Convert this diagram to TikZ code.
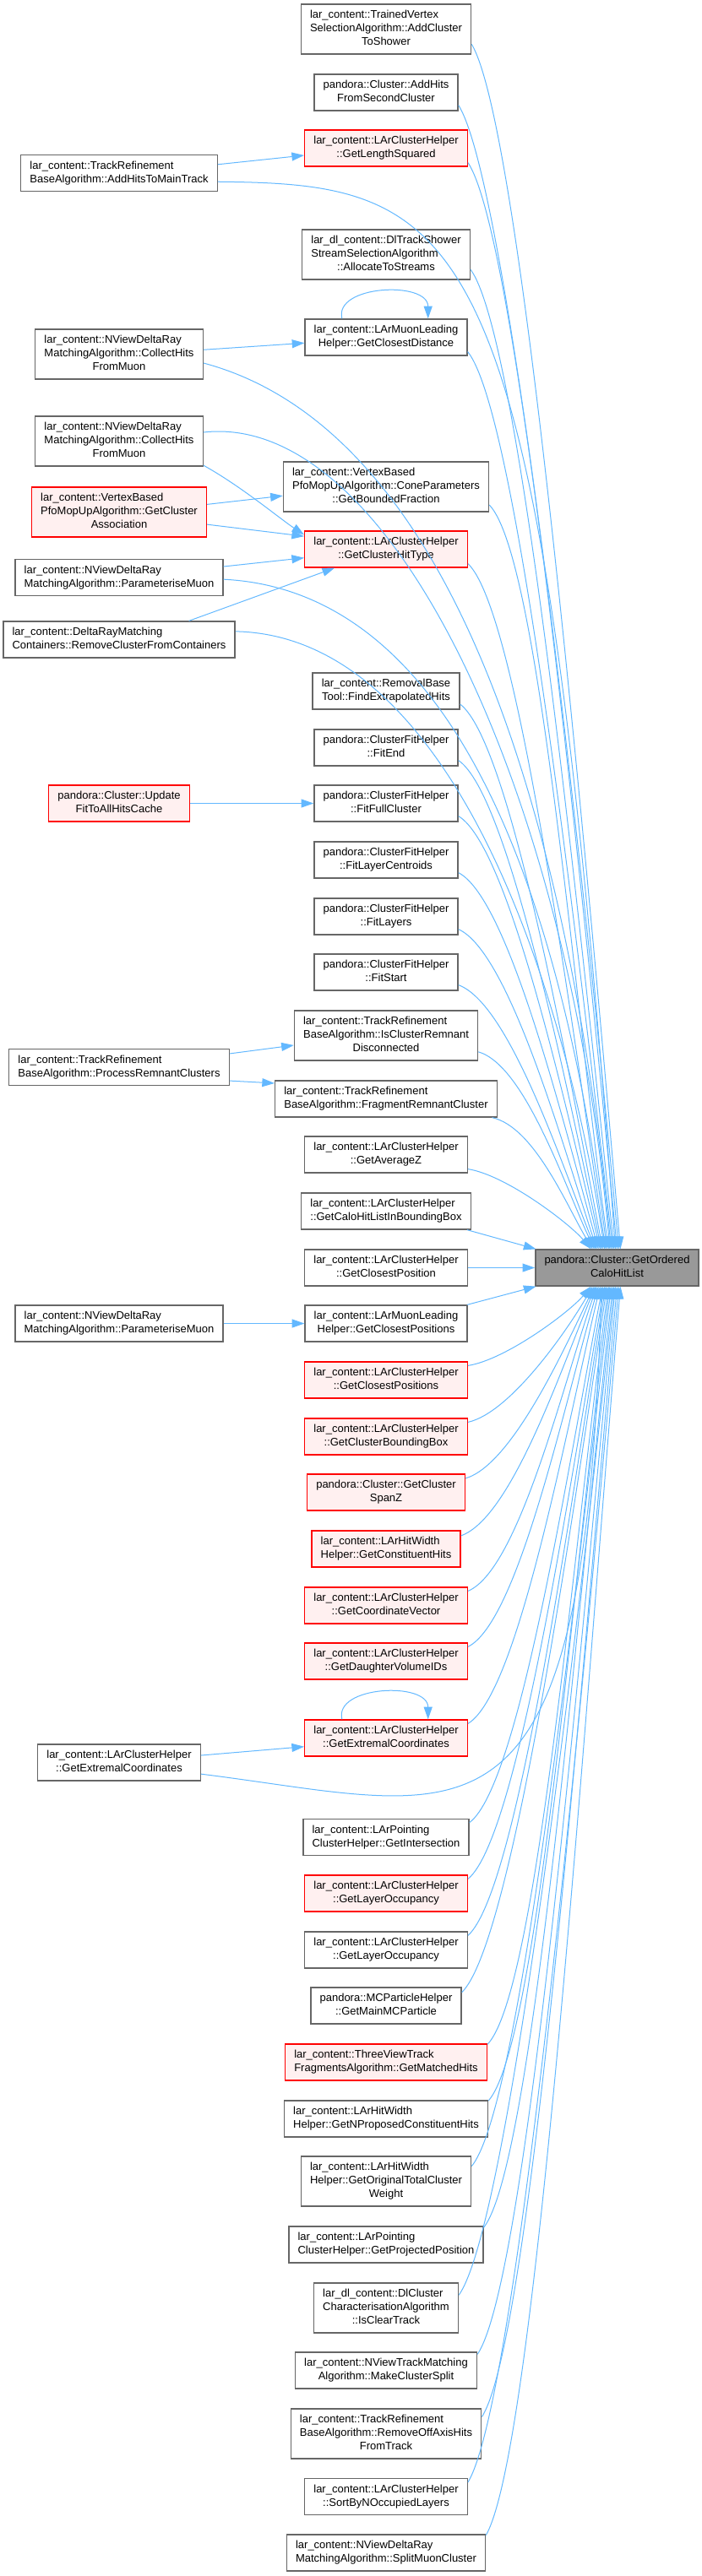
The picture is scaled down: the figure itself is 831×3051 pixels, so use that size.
\documentclass[tikz,border=0pt]{standalone}
\usepackage{fontspec}
\setmainfont{Liberation Sans}
\usepackage{tikz}
\usetikzlibrary{arrows.meta}

\definecolor{edgeblue}{HTML}{63B8FF}
\definecolor{boxgray}{HTML}{666666}
\definecolor{redfill}{HTML}{FFF0F0}
\definecolor{focusfill}{HTML}{999999}

% first lines flush left, last line centred
\newcommand{\fnname}[2]{\begin{tabular}{@{}l@{}}#1\\\multicolumn{1}{@{}c@{}}{#2}\end{tabular}}

\tikzset{
  caller/.style={draw=boxgray, fill=white, line width=1pt, inner xsep=8pt, inner ysep=4.1pt,
    font=\fontsize{9.75}{12}\selectfont},
  callerred/.style={caller, draw=red, fill=redfill},
  focus/.style={caller, fill=focusfill},
  callarrow/.style={draw=edgeblue, line width=0.75pt, -{Triangle[length=11pt,width=7.5pt]}}
}

\begin{document}
\begin{tikzpicture}[x=0.75pt, y=-0.75pt]

\useasboundingbox (0,0) rectangle (831,3051);

% the called function
\node[focus] (t) at (730.5,1501.5) {\fnname{pandora::Cluster::GetOrdered}{CaloHitList}};

% direct callers
\node[caller] (n1) at (457,34.5) {\fnname{lar\_content::TrainedVertex\\SelectionAlgorithm::AddCluster}{ToShower}};
\node[caller] (n2) at (457,109.5) {\fnname{pandora::Cluster::AddHits}{FromSecondCluster}};
\node[callerred] (n3) at (457,175.5) {\fnname{lar\_content::LArClusterHelper}{::GetLengthSquared}};
\node[caller] (n4) at (457,301.5) {\fnname{lar\_dl\_content::DlTrackShower\\StreamSelectionAlgorithm}{::AllocateToStreams}};
\node[caller] (n5) at (457,399.5) {\fnname{lar\_content::LArMuonLeading}{Helper::GetClosestDistance}};
\node[caller] (n6) at (457,576.5) {\fnname{lar\_content::VertexBased\\PfoMopUpAlgorithm::ConeParameters}{::GetBoundedFraction}};
\node[callerred] (n7) at (457,650.5) {\fnname{lar\_content::LArClusterHelper}{::GetClusterHitType}};
\node[caller] (n8) at (457,818.5) {\fnname{lar\_content::RemovalBase}{Tool::FindExtrapolatedHits}};
\node[caller] (n9) at (457,885.5) {\fnname{pandora::ClusterFitHelper}{::FitEnd}};
\node[caller] (n10) at (457,951.5) {\fnname{pandora::ClusterFitHelper}{::FitFullCluster}};
\node[caller] (n11) at (457,1018.5) {\fnname{pandora::ClusterFitHelper}{::FitLayerCentroids}};
\node[caller] (n12) at (457,1085.5) {\fnname{pandora::ClusterFitHelper}{::FitLayers}};
\node[caller] (n13) at (457,1151.5) {\fnname{pandora::ClusterFitHelper}{::FitStart}};
\node[caller] (n14) at (457,1226.5) {\fnname{lar\_content::TrackRefinement\\BaseAlgorithm::IsClusterRemnant}{Disconnected}};
\node[caller] (n15) at (457,1301.5) {\fnname{lar\_content::TrackRefinement}{BaseAlgorithm::FragmentRemnantCluster}};
\node[caller] (n16) at (457,1367.5) {\fnname{lar\_content::LArClusterHelper}{::GetAverageZ}};
\node[caller] (n17) at (457,1434.5) {\fnname{lar\_content::LArClusterHelper}{::GetCaloHitListInBoundingBox}};
\node[caller] (n18) at (457,1501.5) {\fnname{lar\_content::LArClusterHelper}{::GetClosestPosition}};
\node[caller] (n19) at (457,1567.5) {\fnname{lar\_content::LArMuonLeading}{Helper::GetClosestPositions}};
\node[callerred] (n20) at (457,1634.5) {\fnname{lar\_content::LArClusterHelper}{::GetClosestPositions}};
\node[callerred] (n21) at (457,1701.5) {\fnname{lar\_content::LArClusterHelper}{::GetClusterBoundingBox}};
\node[callerred] (n22) at (457,1767.5) {\fnname{pandora::Cluster::GetCluster}{SpanZ}};
\node[callerred] (n23) at (457,1834.5) {\fnname{lar\_content::LArHitWidth}{Helper::GetConstituentHits}};
\node[callerred] (n24) at (457,1901.5) {\fnname{lar\_content::LArClusterHelper}{::GetCoordinateVector}};
\node[callerred] (n25) at (457,1967.5) {\fnname{lar\_content::LArClusterHelper}{::GetDaughterVolumeIDs}};
\node[callerred] (n26) at (457,2058.5) {\fnname{lar\_content::LArClusterHelper}{::GetExtremalCoordinates}};
\node[caller] (n27) at (457,2176) {\fnname{lar\_content::LArPointing}{ClusterHelper::GetIntersection}};
\node[callerred] (n28) at (457,2242.5) {\fnname{lar\_content::LArClusterHelper}{::GetLayerOccupancy}};
\node[caller] (n29) at (457,2309.5) {\fnname{lar\_content::LArClusterHelper}{::GetLayerOccupancy}};
\node[caller] (n30) at (457,2375.5) {\fnname{pandora::MCParticleHelper}{::GetMainMCParticle}};
\node[callerred] (n31) at (457,2442.5) {\fnname{lar\_content::ThreeViewTrack}{FragmentsAlgorithm::GetMatchedHits}};
\node[caller] (n32) at (457,2509.5) {\fnname{lar\_content::LArHitWidth}{Helper::GetNProposedConstituentHits}};
\node[caller] (n33) at (457,2583.5) {\fnname{lar\_content::LArHitWidth\\Helper::GetOriginalTotalCluster}{Weight}};
\node[caller] (n34) at (457,2658.5) {\fnname{lar\_content::LArPointing}{ClusterHelper::GetProjectedPosition}};
\node[caller] (n35) at (457,2733.5) {\fnname{lar\_dl\_content::DlCluster\\CharacterisationAlgorithm}{::IsClearTrack}};
\node[caller] (n36) at (457,2807.5) {\fnname{lar\_content::NViewTrackMatching}{Algorithm::MakeClusterSplit}};
\node[caller] (n37) at (457,2882.5) {\fnname{lar\_content::TrackRefinement\\BaseAlgorithm::RemoveOffAxisHits}{FromTrack}};
\node[caller] (n38) at (457,2957) {\fnname{lar\_content::LArClusterHelper}{::SortByNOccupiedLayers}};
\node[caller] (n39) at (457,3023.5) {\fnname{lar\_content::NViewDeltaRay}{MatchingAlgorithm::SplitMuonCluster}};

% callers of the callers
\node[caller] (m1) at (141,205) {\fnname{lar\_content::TrackRefinement}{BaseAlgorithm::AddHitsToMainTrack}};
\node[caller] (m2) at (141,419.5) {\fnname{lar\_content::NViewDeltaRay\\MatchingAlgorithm::CollectHits}{FromMuon}};
\node[caller] (m3) at (141,522.5) {\fnname{lar\_content::NViewDeltaRay\\MatchingAlgorithm::CollectHits}{FromMuon}};
\node[callerred] (m4) at (141,606.5) {\fnname{lar\_content::VertexBased\\PfoMopUpAlgorithm::GetCluster}{Association}};
\node[caller] (m5) at (141,684) {\fnname{lar\_content::NViewDeltaRay}{MatchingAlgorithm::ParameteriseMuon}};
\node[caller] (m6) at (141,757.5) {\fnname{lar\_content::DeltaRayMatching}{Containers::RemoveClusterFromContainers}};
\node[callerred] (m7) at (141,951.5) {\fnname{pandora::Cluster::Update}{FitToAllHitsCache}};
\node[caller] (m8) at (141,1264) {\fnname{lar\_content::TrackRefinement}{BaseAlgorithm::ProcessRemnantClusters}};
\node[caller] (m9) at (141,1567.5) {\fnname{lar\_content::NViewDeltaRay}{MatchingAlgorithm::ParameteriseMuon}};
\node[caller] (m10) at (141,2087.5) {\fnname{lar\_content::LArClusterHelper}{::GetExtremalCoordinates}};

% calls from above
\draw[callarrow] (n1.-10) .. controls +(60,100) and +(-40,-457) .. ([xshift=3pt]t.north);
\draw[callarrow] (n2.-10) .. controls +(60,95) and +(-40,-434) .. ([xshift=1.5pt]t.north);
\draw[callarrow] (n3.-10) .. controls +(60,90) and +(-40,-412) .. (t.north);
\draw[callarrow] (n4.-10) .. controls +(60,81) and +(-40,-372) .. ([xshift=-2.6pt]t.north);
\draw[callarrow] (n5.-10) .. controls +(60,74) and +(-40,-340) .. ([xshift=-3.75pt]t.north);
\draw[callarrow] (n6.-10) .. controls +(60,62) and +(-40,-282) .. ([xshift=-7.5pt]t.north);
\draw[callarrow] (n7.-10) .. controls +(60,57) and +(-40,-260) .. ([xshift=-10.1pt]t.north);
\draw[callarrow] (n8.-10) .. controls +(60,45) and +(-40,-207) .. ([xshift=-12.75pt]t.north);
\draw[callarrow] (n9.-10) .. controls +(60,41) and +(-40,-186) .. ([xshift=-13.9pt]t.north);
\draw[callarrow] (n10.-10) .. controls +(60,36) and +(-40,-164) .. ([xshift=-15pt]t.north);
\draw[callarrow] (n11.-10) .. controls +(60,31) and +(-40,-143) .. ([xshift=-16.5pt]t.north);
\draw[callarrow] (n12.-10) .. controls +(60,27) and +(-40,-122) .. ([xshift=-18pt]t.north);
\draw[callarrow] (n13.-10) .. controls +(60,22) and +(-40,-100) .. ([xshift=-19.1pt]t.north);
\draw[callarrow] (n14.-10) .. controls +(55,16) and +(-35,-75) .. ([xshift=-20.25pt]t.north);
\draw[callarrow] (n15.-10) .. controls +(50,11) and +(-30,-50) .. ([xshift=-21.75pt]t.north);
\draw[callarrow] (n16.-10) .. controls +(45,7) and +(-25,-30) .. ([xshift=-23.25pt]t.north);
\draw[callarrow] (n17.-13) -- ([xshift=1pt]t.north west);
\draw[callarrow] (n18) -- (t);
\draw[callarrow] (n19.13) -- ([xshift=1pt]t.south west);

% calls from below
\draw[callarrow] (n20.10) .. controls +(45,-7) and +(-25,30) .. ([xshift=-23.25pt]t.south);
\draw[callarrow] (n21.10) .. controls +(50,-11) and +(-30,52) .. ([xshift=-21.75pt]t.south);
\draw[callarrow] (n22.10) .. controls +(55,-16) and +(-35,73) .. ([xshift=-20.25pt]t.south);
\draw[callarrow] (n23.10) .. controls +(60,-21) and +(-40,95) .. ([xshift=-19.1pt]t.south);
\draw[callarrow] (n24.10) .. controls +(60,-25) and +(-40,116) .. ([xshift=-18pt]t.south);
\draw[callarrow] (n25.10) .. controls +(60,-30) and +(-40,137) .. ([xshift=-16.5pt]t.south);
\draw[callarrow] (n26.10) .. controls +(60,-36) and +(-40,166) .. ([xshift=-15pt]t.south);
\draw[callarrow] (n27.10) .. controls +(60,-45) and +(-40,204) .. ([xshift=-12.75pt]t.south);
\draw[callarrow] (n28.10) .. controls +(60,-49) and +(-40,225) .. ([xshift=-11.25pt]t.south);
\draw[callarrow] (n29.10) .. controls +(60,-54) and +(-40,246) .. ([xshift=-10.1pt]t.south);
\draw[callarrow] (n30.10) .. controls +(60,-59) and +(-40,268) .. ([xshift=-9pt]t.south);
\draw[callarrow] (n31.10) .. controls +(60,-63) and +(-40,287) .. ([xshift=-7.5pt]t.south);
\draw[callarrow] (n32.10) .. controls +(60,-68) and +(-40,309) .. ([xshift=-6.4pt]t.south);
\draw[callarrow] (n33.10) .. controls +(60,-73) and +(-40,334) .. ([xshift=-5.25pt]t.south);
\draw[callarrow] (n34.10) .. controls +(60,-78) and +(-40,357) .. ([xshift=-3.75pt]t.south);
\draw[callarrow] (n35.10) .. controls +(60,-84) and +(-40,382) .. ([xshift=-2.6pt]t.south);
\draw[callarrow] (n36.10) .. controls +(60,-89) and +(-40,405) .. ([xshift=-1.5pt]t.south);
\draw[callarrow] (n37.10) .. controls +(60,-94) and +(-40,429) .. (t.south);
\draw[callarrow] (n38.10) .. controls +(60,-99) and +(-40,453) .. ([xshift=1.5pt]t.south);
\draw[callarrow] (n39.10) .. controls +(60,-104) and +(-40,474) .. ([xshift=3pt]t.south);

% second level
\draw[callarrow] (m1.5) -- (n3.185);
\draw[callarrow] (m1.-5) .. controls +(300,3) and +(-90,-1220) .. ([xshift=-1.5pt]t.north);
\draw[callarrow] (m2.3) -- (n5.184);
\draw[callarrow] (m2.-6) .. controls +(300,80) and +(-50,-500) .. ([xshift=-5.25pt]t.north);
\draw[callarrow] (m3.-16) .. controls +(45,25) and +(-30,-20) .. (n7.170);
\draw[callarrow] (m3.6) .. controls +(220,-25) and +(-50,-550) .. ([xshift=-6.4pt]t.north);
\draw[callarrow] (m4.5) -- (n6.185);
\draw[callarrow] (m4.-8) -- (n7.171);
\draw[callarrow] (m5.6) -- (n7.186);
\draw[callarrow] (m5.-1) .. controls +(300,15) and +(-45,-350) .. ([xshift=-9pt]t.north);
\draw[callarrow] (m6.15) -- (n7.200);
\draw[callarrow] (m6.4) .. controls +(260,5) and +(-45,-300) .. ([xshift=-11.25pt]t.north);
\draw[callarrow] (m7) -- (n10);
\draw[callarrow] (m8.7) -- (n14.186);
\draw[callarrow] (m8.-7) -- (n15.172);
\draw[callarrow] (m9) -- (n19);
\draw[callarrow] (m10.5) -- (n26.186);
\draw[callarrow] (m10.-8) .. controls +(320,40) and +(-20,700) .. ([xshift=-13.9pt]t.south);

% recursive calls
\draw[callarrow] (n5.157) .. controls +(-10,-40) and +(0,-45) .. (n5.24);
\draw[callarrow] (n26.157) .. controls +(-10,-40) and +(0,-45) .. (n26.24);

\end{tikzpicture}
\end{document}
